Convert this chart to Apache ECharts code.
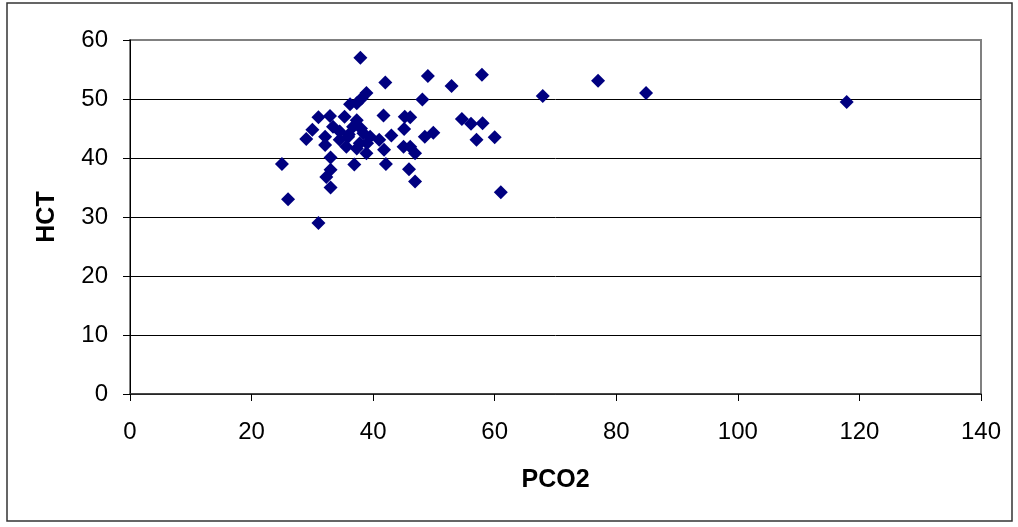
<!DOCTYPE html>
<html>
<head>
<meta charset="utf-8">
<script src="https://cdn.jsdelivr.net/npm/echarts@6/dist/echarts.min.js"></script>
<style>
html,body{margin:0;padding:0;background:#fff;}
#chart{width:1018px;height:527px;}
</style>
</head>
<body>
<div id="chart"></div>
<script>
const pco2 = [25,26,31,29,30,31,32.9,35.3,36.2,37.3,38.1,38.9,37.9,42,41.7,32.1,32.1,33,32.3,33,33,36.9,38.9,42.1,43,41,41.8,33.4,34.5,36.7,37.3,38.4,39.5,35.6,37.3,35.9,37.8,34.5,36,38,39,45.2,46.1,45.1,45,46.1,46.9,45.9,46.9,48.1,49,52.9,57.9,48.5,49.9,54.6,56.1,58,57,60,61,67.9,77,84.9,117.9];
const hct  = [39,33,29,43.2,44.8,46.9,47.1,47,49.1,49.3,50.1,51,57,52.8,47.2,42.2,43.6,40.1,36.8,38,35,38.9,40.8,39,43.8,43.1,41.4,45.3,43.1,45.3,46.4,44.2,43.6,41.9,41.6,43.6,42.5,44.5,44,45,42.5,47,46.9,44.9,41.9,41.9,40.8,38.1,36,49.9,53.9,52.2,54.1,43.6,44.3,46.6,45.8,45.9,43.1,43.5,34.2,50.5,53.1,51,49.5];
const xTitle = 'PCO2';
const yTitle = 'HCT';

const data = pco2.map((x, i) => [x, hct[i]]);
const chart = echarts.init(document.getElementById('chart'));
const font = '"Liberation Sans", Arial, sans-serif';
chart.setOption({
  animation: false,
  graphic: [{
    type: 'rect', shape: {x: 7, y: 3, width: 1005, height: 518},
    style: {fill: 'none', stroke: '#333', lineWidth: 1.5}, z: -1
  }],
  grid: {left: 130, right: 37, top: 40, bottom: 133, show: true, borderColor: '#808080', borderWidth: 2},
  xAxis: {
    type: 'value', min: 0, max: 140, interval: 20,
    name: xTitle, nameLocation: 'middle', nameGap: 74,
    nameTextStyle: {fontFamily: font, fontSize: 25, fontWeight: 'bold', color: '#000'},
    axisLine: {show: true, onZero: false, lineStyle: {color: '#333', width: 1.5}},
    axisTick: {show: true, length: 7, lineStyle: {color: '#000'}},
    axisLabel: {fontFamily: font, fontSize: 24, color: '#000', margin: 26},
    splitLine: {show: false}
  },
  yAxis: {
    type: 'value', min: 0, max: 60, interval: 10,
    name: yTitle, nameLocation: 'middle', nameGap: 70,
    nameTextStyle: {fontFamily: font, fontSize: 25, fontWeight: 'bold', color: '#000'},
    axisLine: {show: true, lineStyle: {color: '#000', width: 1}},
    axisTick: {show: true, length: 7, lineStyle: {color: '#000'}},
    axisLabel: {fontFamily: font, fontSize: 24, color: '#000', margin: 22},
    splitLine: {show: true, lineStyle: {color: ['#000','#000','#000','#000','#000','#000','#808080'], width: 1}}
  },
  series: [{
    type: 'scatter', data: data, symbol: 'diamond', symbolSize: 14,
    itemStyle: {color: '#000080', opacity: 1}
  }]
});
</script>
</body>
</html>
